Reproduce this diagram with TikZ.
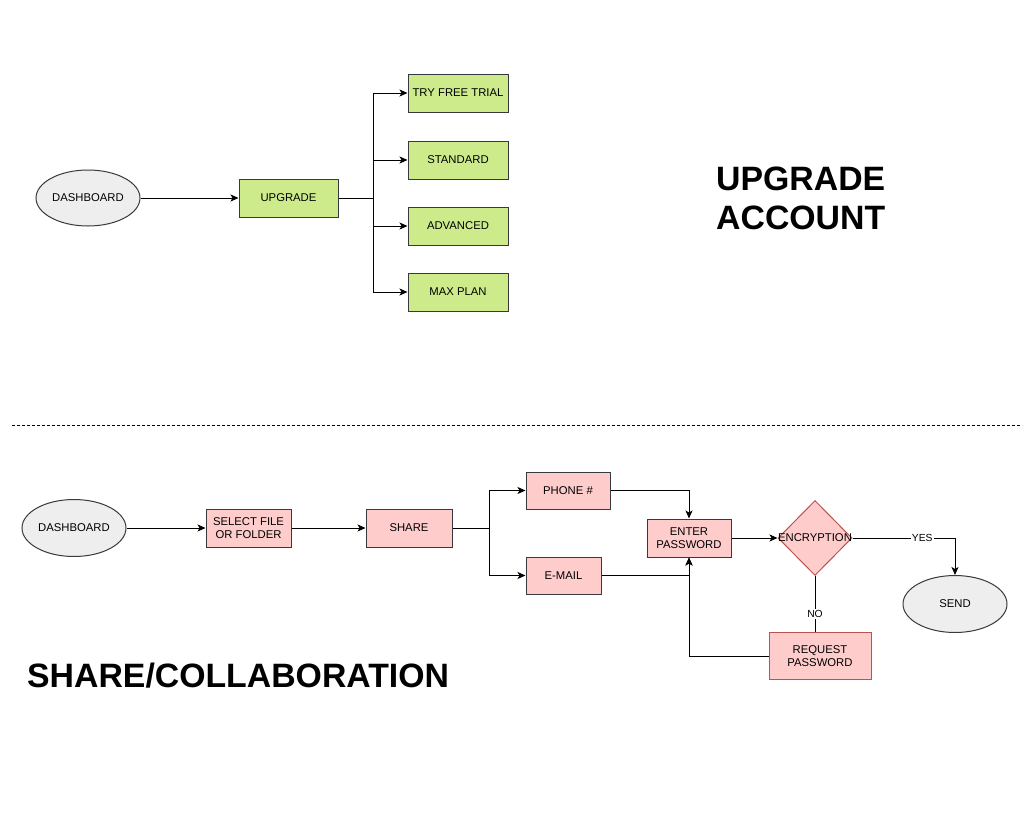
\documentclass[tikz,border=0pt]{standalone}
\usepackage{fontspec}
\setmainfont{Liberation Sans}
\usetikzlibrary{arrows.meta,shapes.geometric}
\definecolor{greenfill}{HTML}{CDEB8B}
\definecolor{pinkfill}{HTML}{FFCCCC}
\definecolor{greyfill}{HTML}{EEEEEE}
\definecolor{edgegrey}{HTML}{36393D}
\definecolor{edgered}{HTML}{B85450}
\begin{document}
\begin{tikzpicture}[x=1pt,y=-1pt,
  font=\fontsize{11.3}{13.3}\selectfont,
  base/.style={inner sep=0pt, align=center, line width=1pt, text=black},
  term/.style={base, ellipse, draw=edgegrey, fill=greyfill, minimum width=104pt, minimum height=56pt},
  plan/.style={base, rectangle, draw=edgegrey, fill=greenfill, minimum width=100pt, minimum height=38pt},
  act/.style={base, rectangle, draw=edgegrey, fill=pinkfill, minimum height=38pt},
  warn/.style={act, draw=edgered},
  decide/.style={base, diamond, draw=edgered, fill=pinkfill, minimum width=74pt, minimum height=75pt},
  flow/.style={draw=black, line width=1pt, -{Stealth[length=8pt,width=7pt,inset=2pt]}},
  wire/.style={draw=black, line width=1pt},
  title/.style={inner sep=0pt, font=\fontsize{33.8}{39}\selectfont\bfseries, align=left},
  tag/.style={fill=white, inner sep=1pt, font=\fontsize{10.3}{12}\selectfont}]
\useasboundingbox (0,0) rectangle (1034,822);

% ---------- upgrade account ----------
\node[term] (dash1) at (88,198) {DASHBOARD};
\node[plan, minimum width=99pt] (upgrade) at (288.5,198) {UPGRADE};
\node[plan] (trial) at (458,93) {TRY FREE TRIAL};
\node[plan] (standard) at (458,160) {STANDARD};
\node[plan] (advanced) at (458,226) {ADVANCED};
\node[plan] (maxplan) at (458,292) {MAX PLAN};
\node[title, anchor=west] (uptitle) at (716,198) {UPGRADE\\ACCOUNT};

\coordinate (fork1) at (373,198);
\draw[flow] (dash1) -- (upgrade);
\draw[wire] (upgrade) -- (fork1);
\draw[flow] (fork1) |- (trial);
\draw[flow] (fork1) |- (standard);
\draw[flow] (fork1) |- (advanced);
\draw[flow] (fork1) |- (maxplan);

% ---------- divider ----------
\coordinate (divL) at (12,425);
\coordinate (divR) at (1022,425);
\draw[line width=0.8pt, dash pattern=on 3pt off 2pt] (divL) -- (divR);

% ---------- share / collaboration ----------
\node[term, minimum height=57pt] (dash2) at (74,528) {DASHBOARD};
\node[act, minimum width=85pt] (select) at (248.5,528) {SELECT FILE\\OR FOLDER};
\node[act, minimum width=86pt] (share) at (409,528) {SHARE};
\node[act, minimum width=84pt, minimum height=37pt] (phone) at (568,490.5) {PHONE \#};
\node[act, minimum width=75pt, minimum height=37pt] (email) at (563.5,575.5) {E-MAIL};
\node[act, minimum width=84pt] (enter) at (689,538) {ENTER\\PASSWORD};
\node[decide, label=center:ENCRYPTION] (enc) at (815,538) {};
\node[term, minimum height=57pt] (send) at (955,604) {SEND};
\node[warn, minimum width=102pt, minimum height=47pt] (request) at (820,656) {REQUEST\\PASSWORD};
\node[title, anchor=west] (sharetitle) at (27,676) {SHARE/COLLABORATION};

\coordinate (fork2) at (489,528);
\draw[flow] (dash2) -- (select);
\draw[flow] (select) -- (share);
\draw[wire] (share) -- (fork2);
\draw[flow] (fork2) |- (phone);
\draw[flow] (fork2) |- (email);
\draw[flow] (phone.east) -| (enter.north);
\draw[flow] (email.east) -| (enter.south);
\draw[flow] (request.west) -| (enter.south);
\draw[flow] (enter) -- (enc);
\draw[flow] (enc.east) -| node[tag, pos=0.34] {YES} (send.north);
\draw[wire] (enc.south) -- node[tag, pos=0.68] {NO} (enc.south |- request.north);
\end{tikzpicture}
\end{document}
